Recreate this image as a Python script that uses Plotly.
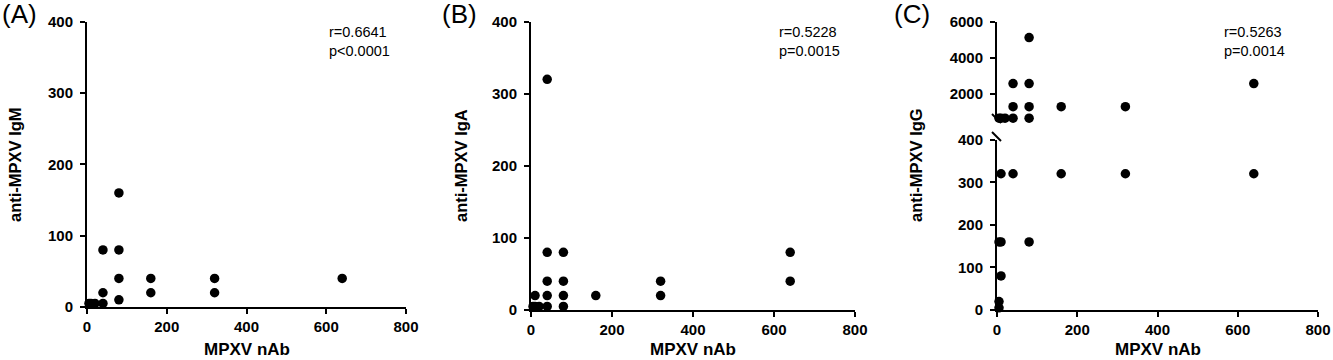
import plotly.graph_objects as go

# ---------------- data ----------------
nab_igm = [5, 10, 20, 40, 40, 40, 80, 80, 80, 80, 160, 160, 320, 320, 640]
igm = [5, 5, 5, 5, 20, 80, 10, 40, 80, 160, 20, 40, 20, 40, 40]

nab_iga = [5, 10, 20, 10, 40, 40, 40, 40, 40, 80, 80, 80, 80, 160, 320, 320, 640, 640]
iga = [5, 5, 5, 20, 5, 20, 40, 80, 320, 5, 20, 40, 80, 20, 20, 40, 40, 80]

nab_igg = [5, 5, 5, 10, 10, 10, 40, 80, 160, 320, 640,
           5, 10, 20, 40, 40, 40, 80, 80, 80, 80, 160, 320, 640]
igg = [5, 20, 160, 160, 80, 320, 320, 160, 320, 320, 320,
       640, 640, 640, 640, 1280, 2560, 640, 1280, 2560, 5120, 1280, 1280, 2560]

x_ticks = [0, 200, 400, 600, 800]
y_ticks = [0, 100, 200, 300, 400]
igg_upper_ticks = [2000, 4000, 6000]
igg_break = 500

panel_labels = ["(A)", "(B)", "(C)"]
y_titles = ["anti-MPXV IgM", "anti-MPXV IgA", "anti-MPXV IgG"]
x_title = "MPXV nAb"
stats = ["r=0.6641<br>p&lt;0.0001", "r=0.5228<br>p=0.0015", "r=0.5263<br>p=0.0014"]

# ---------------- layout helpers ----------------
W, H = 1333, 360
FONT = "Arial, Liberation Sans, sans-serif"


def fx(px):
    return px / W


def fy(py):
    return 1 - py / H


axis_style = dict(
    showline=True, linecolor="black", linewidth=2,
    ticks="outside", ticklen=5, tickwidth=2, tickcolor="black",
    showgrid=False, zeroline=False, automargin=False,
    tickfont=dict(family=FONT, size=15, color="black", weight="bold"),
)
yaxis_style = dict(axis_style, ticklabelstandoff=4)

fig = go.Figure()
marker = dict(color="black", size=9.5)

# Panel A
fig.add_trace(go.Scatter(x=nab_igm, y=igm, mode="markers", marker=marker,
                         xaxis="x", yaxis="y", cliponaxis=False, showlegend=False))
# Panel B
fig.add_trace(go.Scatter(x=nab_iga, y=iga, mode="markers", marker=marker,
                         xaxis="x2", yaxis="y2", cliponaxis=False, showlegend=False))
# Panel C (broken axis)
lo_x = [a for a, b in zip(nab_igg, igg) if b < igg_break]
lo_y = [b for b in igg if b < igg_break]
hi_x = [a for a, b in zip(nab_igg, igg) if b >= igg_break]
hi_y = [b for b in igg if b >= igg_break]
fig.add_trace(go.Scatter(x=lo_x, y=lo_y, mode="markers", marker=marker,
                         xaxis="x3", yaxis="y3", cliponaxis=False, showlegend=False))
fig.add_trace(go.Scatter(x=hi_x, y=hi_y, mode="markers", marker=marker,
                         xaxis="x3", yaxis="y4", cliponaxis=False, showlegend=False))

xdoms = [(87, 406), (531, 855), (997, 1318)]
fig.update_layout(
    width=W, height=H, autosize=False,
    margin=dict(l=0, r=0, t=0, b=0, pad=0),
    paper_bgcolor="white", plot_bgcolor="white",
    xaxis=dict(domain=[fx(87), fx(406)], range=[0, 800], tickvals=x_ticks, anchor="y", **axis_style),
    yaxis=dict(domain=[fy(307), fy(21.7)], range=[0, 400], tickvals=y_ticks, anchor="x", **yaxis_style),
    xaxis2=dict(domain=[fx(531), fx(855)], range=[0, 800], tickvals=x_ticks, anchor="y2", **axis_style),
    yaxis2=dict(domain=[fy(310), fy(21.7)], range=[0, 400], tickvals=y_ticks, anchor="x2", **yaxis_style),
    xaxis3=dict(domain=[fx(997), fx(1318)], range=[0, 800], tickvals=x_ticks, anchor="y3", **axis_style),
    yaxis3=dict(domain=[fy(310), fy(139.7)], range=[0, 400], tickvals=y_ticks, anchor="x3", **yaxis_style),
    yaxis4=dict(domain=[fy(120.7), fy(21.7)], range=[igg_break, 6000], tickvals=igg_upper_ticks,
                anchor="x3", **yaxis_style),
)

annotations = []
label_x = [0, 440, 892]
ytitle_x = [15, 461, 916]
stat_x = [327, 777, 1222]
for i in range(3):
    annotations.append(dict(text=panel_labels[i], x=fx(label_x[i]), y=fy(-3), xref="paper", yref="paper",
                            xanchor="left", yanchor="top", showarrow=False,
                            font=dict(family=FONT, size=26, color="black")))
    annotations.append(dict(text=y_titles[i], x=fx(ytitle_x[i]), y=fy(165), xref="paper", yref="paper",
                            xanchor="center", yanchor="middle", textangle=-90, showarrow=False,
                            font=dict(family=FONT, size=16.5, color="black", weight="bold")))
    cx = (xdoms[i][0] + xdoms[i][1]) / 2
    annotations.append(dict(text=x_title, x=fx(cx), y=fy(349), xref="paper", yref="paper",
                            xanchor="center", yanchor="middle", showarrow=False,
                            font=dict(family=FONT, size=17, color="black", weight="bold")))
    annotations.append(dict(text=stats[i], x=fx(stat_x[i]), y=fy(22), xref="paper", yref="paper",
                            xanchor="left", yanchor="top", align="left", showarrow=False,
                            font=dict(family=FONT, size=14.5, color="black")))
fig.update_layout(annotations=annotations)

# break marks on the IgG axis
for (x0, y0, x1, y1) in [(992, 114, 1001, 123), (992, 132, 1001, 141)]:
    fig.add_shape(type="line", xref="paper", yref="paper",
                  x0=fx(x0), y0=fy(y0), x1=fx(x1), y1=fy(y1),
                  line=dict(color="black", width=2))

fig.write_html(
    "out.html",
    config={"displayModeBar": False},
    post_script="document.body.style.margin='0';document.body.style.overflow='hidden';",
)
